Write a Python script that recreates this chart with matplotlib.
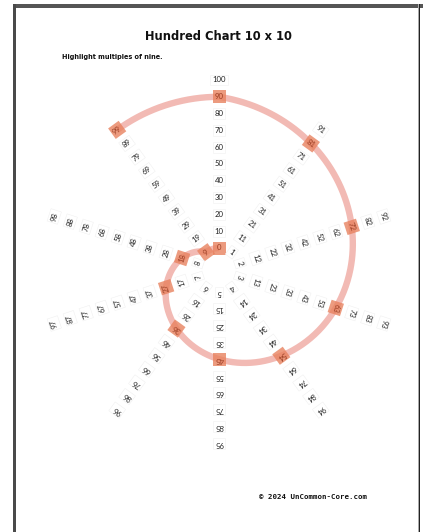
import numpy as np
import matplotlib
matplotlib.use("Agg")
import matplotlib.pyplot as plt
from matplotlib.patches import Rectangle
from matplotlib.transforms import Affine2D

# chart content
title = "Hundred Chart 10 x 10"
subtitle = "Highlight multiples of nine."
footer = "\u00a9 2024 UnCommon-Core.com"
numbers = list(range(0, 101))
highlighted = [0, 9, 18, 27, 36, 45, 54, 63, 72, 81, 90, 99]

# layout (pixels, y downward)
W, H = 423, 532
cx, cy = 219, 270
r0, dr = 22, 16.8
step = 36  # degrees between digits, clockwise from up

line_col = "#f2bab4"
box_col = "#e8825f"


def place(n):
    ring, digit = divmod(n, 10)
    ang = step * digit
    r = r0 + dr * ring
    a = np.radians(ang)
    return cx + r * np.sin(a), cy - r * np.cos(a), ang


fig = plt.figure(figsize=(W / 100, H / 100), dpi=100)
ax = fig.add_axes([0, 0, 1, 1])
ax.set_xlim(0, W)
ax.set_ylim(H, 0)
ax.axis("off")

# page frame
ax.add_patch(Rectangle((13, 4), W - 13, 3.5, color="#555555", lw=0))
ax.add_patch(Rectangle((13, 4), 2.5, H, color="#4a4a4a", lw=0))
ax.add_patch(Rectangle((417.5, 4), 1.2, H, color="#aaaaaa", lw=0))
ax.add_patch(Rectangle((418.7, 4), 1.6, H, color="#222222", lw=0))

# spiral through the multiples of nine (unwrapped angle, ring index)
angs, rads = [], []
for i, n in enumerate(highlighted):
    ring, digit = divmod(n, 10)
    angs.append(-step * i)
    rads.append(r0 + dr * ring)
angs = np.array(angs, float)
rads = np.array(rads, float)
t = np.linspace(angs[0], angs[-1], 600)
rr = np.interp(-t, -angs, rads)
xs = cx + rr * np.sin(np.radians(t))
ys = cy - rr * np.cos(np.radians(t))
ax.plot(xs, ys, color=line_col, lw=4.6, solid_capstyle="butt", zorder=2)

# highlight squares
for n in highlighted:
    x, y, ang = place(n)
    s = 13
    sq = Rectangle((-s / 2, -s / 2), s, s, color=box_col, alpha=0.8, lw=0, zorder=3)
    sq.set_transform(Affine2D().rotate_deg(ang).translate(x, y) + ax.transData)
    ax.add_patch(sq)

# number labels
for n in numbers:
    x, y, ang = place(n)
    hl = n in highlighted
    ax.text(x, y, str(n), rotation=-ang, rotation_mode="anchor",
            ha="center", va="center", fontsize=5.6, family="Lato",
            color="#9a3f25" if hl else "#222222", zorder=4,
            bbox=None if hl else dict(boxstyle="square,pad=0.25", fc="white",
                                      ec="#f0f0f0", lw=0.4))

ax.text(218, 36, title, ha="center", va="center", fontsize=8.3,
        fontweight="bold", family="DejaVu Sans", color="#111111")
ax.text(62, 57, subtitle, ha="left", va="center", fontsize=4.7,
        fontweight="bold", family="DejaVu Sans", color="#111111")
ax.text(313, 497, footer, ha="center", va="center", fontsize=5.3,
        fontweight="bold", family="DejaVu Sans Mono", color="#111111")

fig.savefig("out.png", dpi=100, facecolor="white")
